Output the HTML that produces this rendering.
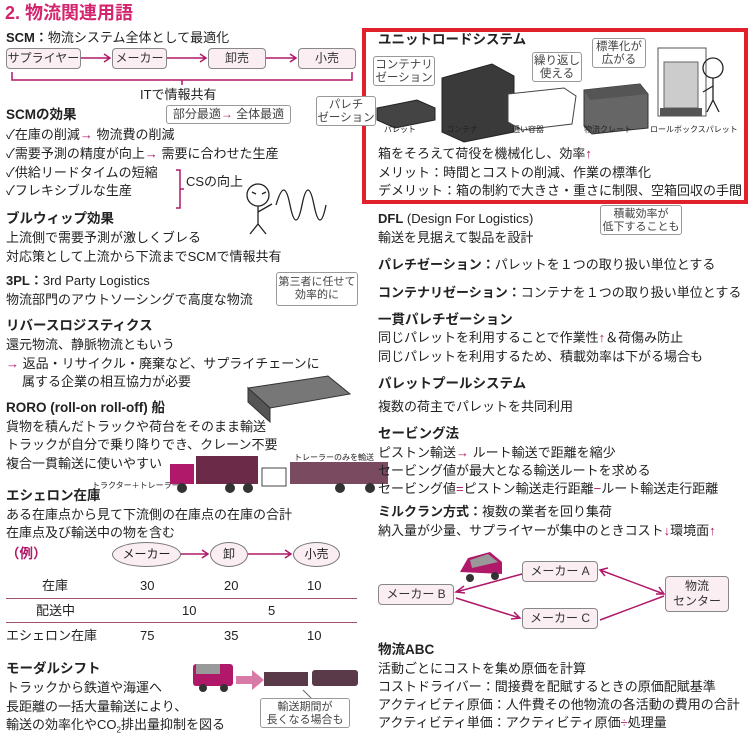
<!DOCTYPE html>
<html><head><meta charset="utf-8"><style>
body{margin:0;width:753px;height:748px;background:#fff;position:relative;overflow:hidden;font-family:"Liberation Sans","Noto Sans CJK JP",sans-serif;color:#222}
.t{position:absolute;white-space:nowrap;font-size:13px;line-height:15px}
.b{font-weight:bold;font-size:13.5px}
.pk{color:#b0186a}
.box{position:absolute;border:1px solid #888;border-radius:4px;background:#fbeef3;font-size:12px;text-align:center;box-sizing:border-box;color:#333}
.nb{position:absolute;border:1px solid #999;border-radius:3px;background:#fff;font-size:11px;line-height:13px;text-align:center;box-sizing:border-box;color:#444}
.ell{position:absolute;border:1px solid #777;border-radius:50%;background:#fbeef3;font-size:12px;text-align:center;box-sizing:border-box;line-height:22px}
.hr{position:absolute;height:1px;background:#a0506a}
</style></head><body>
<div class="t pk" style="left:5px;top:3px;font-size:18px;line-height:20px;font-weight:bold;color:#d4246e">2. 物流関連用語</div>
<div class="t" style="left:6px;top:30px"><b>SCM：</b>物流システム全体として最適化</div>
<div class="box" style="left:6px;top:48px;width:75px;height:21px;line-height:19px">サプライヤー</div>
<div class="box" style="left:112px;top:48px;width:55px;height:21px;line-height:19px">メーカー</div>
<div class="box" style="left:208px;top:48px;width:58px;height:21px;line-height:19px">卸売</div>
<div class="box" style="left:298px;top:48px;width:58px;height:21px;line-height:19px">小売</div>
<svg style="position:absolute;left:0;top:0" width="753" height="748">
<g stroke="#b0186a" fill="none" stroke-width="1.5">
<path d="M81 58H110M104 54l6 4-6 4M167 58H206M200 54l6 4-6 4M266 58H296M290 54l6 4-6 4"/>
<path d="M12 72v8h340v-8M182 80v5"/>
<path d="M176 170h4v38h-4M180 189h4"/>
<path d="M180 554H208M202 550l6 4-6 4M248 554H291M285 550l6 4-6 4"/>
<path d="M522 574L456 592M464 586l-8 6 9 1"/>
<path d="M456 598L520 618M511 619l9-1-6-6"/>
<path d="M600 570L664 594M608 568l-8 2 5 6M656 594l8 0-5-7"/>
<path d="M600 620L664 596"/>
</g>
<path d="M236 676h16v-6l12 10-12 10v-6h-16z" fill="#d87aa6"/>
<g stroke="#222" fill="none" stroke-width="1.3">
<circle cx="258" cy="195" r="11"/><path d="M258 206v18l-8 10M258 224l8 10M258 212l14-8M276 205c6-20 10-20 14 0s8 20 12 0 8-20 12 0 8 20 12 0"/>
<path d="M252 192l4 2M262 194l4-2"/>
</g>
<g fill="#777" stroke="#333"><path d="M248 388l80-12 22 18-80 14z"/><path d="M248 388v14l22 20v-14z" fill="#555"/></g>
<rect x="196" y="456" width="62" height="28" fill="#6a2a48"/><rect x="170" y="464" width="24" height="20" fill="#b0186a"/>
<circle cx="182" cy="488" r="5" fill="#333"/><circle cx="230" cy="488" r="5" fill="#333"/><circle cx="248" cy="488" r="5" fill="#333"/>
<rect x="290" y="462" width="98" height="22" fill="#7a4a60"/><circle cx="340" cy="488" r="5" fill="#333"/><circle cx="370" cy="488" r="5" fill="#333"/>
<rect x="262" y="468" width="24" height="18" fill="#fff" stroke="#444"/>
<rect x="193" y="664" width="40" height="22" rx="3" fill="#b0186a"/><rect x="196" y="664" width="24" height="10" fill="#999"/>
<circle cx="203" cy="688" r="4" fill="#333"/><circle cx="224" cy="688" r="4" fill="#333"/>
<rect x="264" y="672" width="44" height="14" fill="#5a3a48"/><rect x="312" y="670" width="46" height="16" rx="3" fill="#5a3a48"/>
<path d="M303 690l8 8" stroke="#666"/>
<path d="M460 572l8-14 22-6 12 10v12z" fill="#b0186a"/><path d="M470 560l18-6 10 8-26 6z" fill="#999"/>
<circle cx="470" cy="578" r="4" fill="#333"/><circle cx="495" cy="576" r="4" fill="#333"/>
<path d="M377 108l40-8 18 8v12l-40 8-18-8z" fill="#444" stroke="#222"/>
<path d="M442 78l50-14 22 12v56l-50 10-22-10z" fill="#3a3a3a" stroke="#222"/>
<path d="M508 94l56-6 12 8-4 28-50 6-14-8z" fill="#fff" stroke="#444"/>
<path d="M584 90l56-6 8 10v34l-56 6-8-8z" fill="#666" stroke="#333"/><path d="M584 90l56-6 8 10-58 6z" fill="#555"/>
<path d="M658 48l48 0 0 68-48 0z" fill="none" stroke="#555"/><rect x="664" y="62" width="34" height="46" fill="#ccc" stroke="#666"/>
<rect x="660" y="108" width="42" height="8" fill="#555"/>
<g stroke="#222" fill="none" stroke-width="1.3"><circle cx="713" cy="68" r="10"/><path d="M713 78v22l-6 12M713 100l6 12M713 86l-10 6"/></g>
</svg>
<div class="t" style="left:140px;top:87px">ITで情報共有</div>
<div class="nb" style="left:166px;top:105px;width:125px;height:19px;line-height:17px;font-size:12px">部分最適<span class="pk">→</span> 全体最適</div>
<div class="t b" style="left:6px;top:107px">SCMの効果</div>
<div class="t" style="left:6px;top:127px">✓在庫の削減<span class="pk">→</span> 物流費の削減</div>
<div class="t" style="left:6px;top:146px">✓需要予測の精度が向上<span class="pk">→</span> 需要に合わせた生産</div>
<div class="t" style="left:6px;top:165px">✓供給リードタイムの短縮</div>
<div class="t" style="left:6px;top:183px">✓フレキシブルな生産</div>
<div class="t" style="left:186px;top:174px">CSの向上</div>
<div class="t b" style="left:6px;top:211px">ブルウィップ効果</div>
<div class="t" style="left:6px;top:230px">上流側で需要予測が激しくブレる</div>
<div class="t" style="left:6px;top:249px">対応策として上流から下流までSCMで情報共有</div>
<div class="t" style="left:6px;top:273px"><b>3PL：</b>3rd Party Logistics</div>
<div class="t" style="left:6px;top:292px">物流部門のアウトソーシングで高度な物流</div>
<div class="nb" style="left:276px;top:272px;width:82px;height:34px;padding-top:3px">第三者に任せて<br>効率的に</div>
<div class="t b" style="left:6px;top:318px">リバースロジスティクス</div>
<div class="t" style="left:6px;top:337px">還元物流、静脈物流ともいう</div>
<div class="t" style="left:6px;top:356px"><span class="pk">→</span> 返品・リサイクル・廃棄など、サプライチェーンに</div>
<div class="t" style="left:22px;top:374px">属する企業の相互協力が必要</div>
<div class="t b" style="left:6px;top:400px">RORO (roll-on roll-off) 船</div>
<div class="t" style="left:6px;top:419px">貨物を積んだトラックや荷台をそのまま輸送</div>
<div class="t" style="left:6px;top:437px">トラックが自分で乗り降りでき、クレーン不要</div>
<div class="t" style="left:6px;top:456px">複合一貫輸送に使いやすい</div>
<div class="t" style="left:92px;top:478px;font-size:8px">トラクター＋トレーラー</div>
<div class="t" style="left:294px;top:450px;font-size:8px">トレーラーのみを輸送</div>
<div class="t b" style="left:6px;top:488px">エシェロン在庫</div>
<div class="t" style="left:6px;top:507px">ある在庫点から見て下流側の在庫点の在庫の合計</div>
<div class="t" style="left:6px;top:525px">在庫点及び輸送中の物を含む</div>
<div class="t pk b" style="left:6px;top:546px">（例）</div>
<div class="ell" style="left:112px;top:542px;width:69px;height:25px">メーカー</div>
<div class="ell" style="left:210px;top:542px;width:38px;height:25px">卸</div>
<div class="ell" style="left:293px;top:542px;width:47px;height:25px">小売</div>
<div class="t" style="left:42px;top:578px">在庫</div><div class="t" style="left:140px;top:578px">30</div><div class="t" style="left:224px;top:578px">20</div><div class="t" style="left:307px;top:578px">10</div>
<div class="hr" style="left:6px;top:598px;width:351px"></div>
<div class="t" style="left:36px;top:603px">配送中</div><div class="t" style="left:182px;top:603px">10</div><div class="t" style="left:268px;top:603px">5</div>
<div class="hr" style="left:6px;top:622px;width:351px"></div>
<div class="t" style="left:6px;top:628px">エシェロン在庫</div><div class="t" style="left:140px;top:628px">75</div><div class="t" style="left:224px;top:628px">35</div><div class="t" style="left:307px;top:628px">10</div>
<div class="t b" style="left:6px;top:661px">モーダルシフト</div>
<div class="t" style="left:6px;top:680px">トラックから鉄道や海運へ</div>
<div class="t" style="left:6px;top:699px">長距離の一括大量輸送により、</div>
<div class="t" style="left:6px;top:717px">輸送の効率化やCO<sub style="font-size:8px">2</sub>排出量抑制を図る</div>
<div class="nb" style="left:260px;top:698px;width:90px;height:30px;padding-top:2px">輸送期間が<br>長くなる場合も</div>

<div style="position:absolute;left:362px;top:28px;width:386px;height:176px;border:4px solid #e0202a;box-sizing:border-box"></div>
<div class="t b" style="left:378px;top:32px">ユニットロードシステム</div>
<div class="nb" style="left:373px;top:56px;width:62px;height:30px;padding-top:2px;font-size:11.5px">コンテナリ<br>ゼーション</div>
<div class="nb" style="left:532px;top:52px;width:50px;height:30px;padding-top:2px;font-size:11.5px">繰り返し<br>使える</div>
<div class="nb" style="left:592px;top:38px;width:54px;height:30px;padding-top:2px;font-size:11.5px">標準化が<br>広がる</div>
<div class="nb" style="left:316px;top:96px;width:60px;height:30px;padding-top:2px;font-size:11.5px">パレチ<br>ゼーション</div>
<div class="t" style="left:384px;top:122px;font-size:8px">パレット</div>
<div class="t" style="left:446px;top:122px;font-size:8px">コンテナ</div>
<div class="t" style="left:512px;top:122px;font-size:8px">通い容器</div>
<div class="t" style="left:584px;top:122px;font-size:8px">物流クレート</div>
<div class="t" style="left:650px;top:122px;font-size:8px">ロールボックスパレット</div>
<div class="t" style="left:378px;top:146px">箱をそろえて荷役を機械化し、効率<span class="pk">↑</span></div>
<div class="t" style="left:378px;top:165px">メリット：時間とコストの削減、作業の標準化</div>
<div class="t" style="left:378px;top:183px">デメリット：箱の制約で大きさ・重さに制限、空箱回収の手間</div>
<div class="nb" style="left:600px;top:205px;width:82px;height:30px;padding-top:2px">積載効率が<br>低下することも</div>
<div class="t" style="left:378px;top:211px"><b>DFL</b> (Design For Logistics)</div>
<div class="t" style="left:378px;top:230px">輸送を見据えて製品を設計</div>
<div class="t" style="left:378px;top:257px"><b>パレチゼーション：</b>パレットを１つの取り扱い単位とする</div>
<div class="t" style="left:378px;top:285px"><b>コンテナリゼーション：</b>コンテナを１つの取り扱い単位とする</div>
<div class="t b" style="left:378px;top:312px">一貫パレチゼーション</div>
<div class="t" style="left:378px;top:330px">同じパレットを利用することで作業性<span class="pk">↑</span>＆荷傷み防止</div>
<div class="t" style="left:378px;top:349px">同じパレットを利用するため、積載効率は下がる場合も</div>
<div class="t b" style="left:378px;top:376px">パレットプールシステム</div>
<div class="t" style="left:378px;top:399px">複数の荷主でパレットを共同利用</div>
<div class="t b" style="left:378px;top:426px">セービング法</div>
<div class="t" style="left:378px;top:445px">ピストン輸送<span class="pk">→</span> ルート輸送で距離を縮少</div>
<div class="t" style="left:378px;top:463px">セービング値が最大となる輸送ルートを求める</div>
<div class="t" style="left:378px;top:481px">セービング値<span class="pk">=</span>ピストン輸送走行距離<span class="pk">−</span>ルート輸送走行距離</div>
<div class="t" style="left:378px;top:504px"><b>ミルクラン方式：</b>複数の業者を回り集荷</div>
<div class="t" style="left:378px;top:523px">納入量が少量、サプライヤーが集中のときコスト<span class="pk">↓</span>環境面<span class="pk">↑</span></div>
<div class="box" style="left:522px;top:561px;width:76px;height:21px;line-height:19px">メーカー A</div>
<div class="box" style="left:378px;top:584px;width:76px;height:21px;line-height:19px">メーカー B</div>
<div class="box" style="left:522px;top:608px;width:76px;height:21px;line-height:19px">メーカー C</div>
<div class="box" style="left:665px;top:576px;width:64px;height:36px;line-height:15px;padding-top:2px">物流<br>センター</div>
<div class="t b" style="left:378px;top:642px">物流ABC</div>
<div class="t" style="left:378px;top:661px">活動ごとにコストを集め原価を計算</div>
<div class="t" style="left:378px;top:679px">コストドライバー：間接費を配賦するときの原価配賦基準</div>
<div class="t" style="left:378px;top:697px">アクティビティ原価：人件費その他物流の各活動の費用の合計</div>
<div class="t" style="left:378px;top:715px">アクティビティ単価：アクティビティ原価<span class="pk">÷</span>処理量</div>
</body></html>
